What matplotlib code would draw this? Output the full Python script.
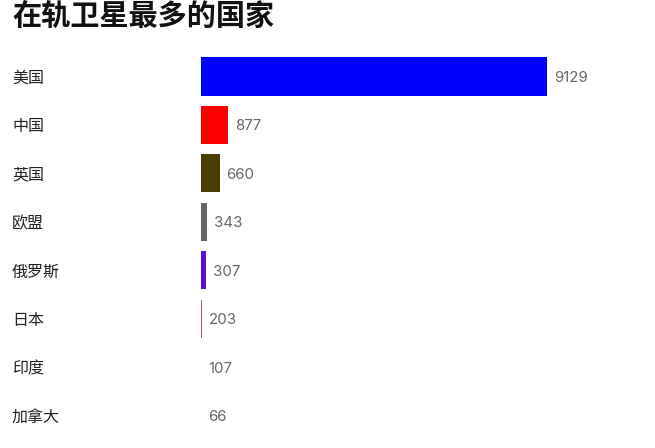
import matplotlib
matplotlib.use("Agg")
import matplotlib.pyplot as plt
from matplotlib.transforms import blended_transform_factory, offset_copy

plt.rcParams['font.family'] = ['Noto Sans CJK SC', 'DejaVu Sans']

title = "在轨卫星最多的国家"
countries = ["美国", "中国", "英国", "欧盟", "俄罗斯", "日本", "印度", "加拿大"]
values = [9129, 877, 660, 343, 307, 203, 107, 66]
colors = ["#0000ff", "#ff0000", "#4a3d00", "#666666", "#5a10c8", "#9a5a6a", "#e0e0e0", "#e0e0e0"]
x_min = 180

fig = plt.figure(figsize=(6.55, 4.48), dpi=100)
W, H = 655, 448
ax_left, ax_right = 201, 547
top_c, bot_c = 76.5, 415.5
step = (bot_c - top_c) / 7
ax = fig.add_axes([ax_left / W, 1 - (bot_c + step / 2) / H,
                   (ax_right - ax_left) / W, (bot_c - top_c + step) / H])

ypos = list(range(len(countries)))
ax.barh(ypos, values, height=0.79, color=colors, left=0)
ax.set_xlim(x_min, max(values))
ax.set_ylim(len(countries) - 0.5, -0.5)
ax.axis('off')

for y, v in zip(ypos, values):
    xv = max(v, x_min)
    t = offset_copy(ax.transData, fig=fig, x=7, y=-1.5, units='dots')
    ax.text(xv, y, f"{v}", transform=t, ha='left', va='center',
            fontsize=10.8, color='#666666', family=['Inter', 'Noto Sans CJK SC'],
            clip_on=False)

lab_trans = offset_copy(blended_transform_factory(fig.transFigure, ax.transData),
                        fig=fig, x=0, y=-2, units='dots')
for y, c in zip(ypos, countries):
    ax.text(12 / W, y, c, transform=lab_trans, ha='left', va='center',
            fontsize=11.5, color='#222222', clip_on=False)

fig.text(12 / W, 1 - 25 / H, title, ha='left', va='baseline',
         fontsize=21, fontweight='bold', color='#111111')

fig.savefig("out.png", dpi=100, facecolor='white')
